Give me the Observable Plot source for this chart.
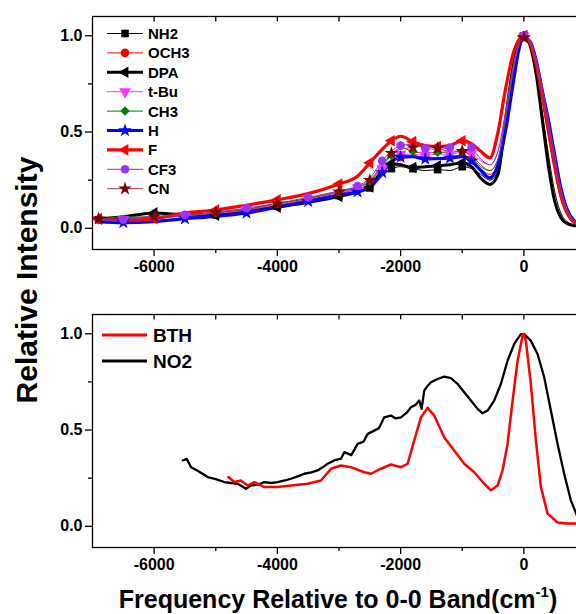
<!DOCTYPE html>
<html><head><meta charset="utf-8">
<script src="https://cdn.jsdelivr.net/npm/d3@7"></script>
<script src="https://cdn.jsdelivr.net/npm/@observablehq/plot@0.6"></script>
<style>
html,body{margin:0;padding:0;background:#fff;overflow:hidden}
#wrap{position:relative;width:576px;height:614px;overflow:hidden;background:#fff;font-family:"Liberation Sans",Arial,sans-serif}
#wrap > div, #wrap > svg{position:absolute;left:0}
#wrap > div{width:585px}
#wrap svg{max-width:none !important}
</style></head><body><div id="wrap"></div>
<script>
// ---------- data ----------
const xGrid = [-6900,-6500,-6000,-5500,-5000,-4500,-4000,-3500,-3000,-2700,-2500,-2300,-2150,-2000,-1800,-1600,-1400,-1200,-1000,-850,-700,-550,-420,-300,-180,-80,0,100,200,300,400,500,600,700,800,1000];
const seriesNames = ["NH2","OCH3","DPA","t-Bu","CH3","H","F","CF3","CN"];
const yNH2 = [0.045,0.050,0.060,0.062,0.070,0.088,0.115,0.140,0.170,0.190,0.210,0.270,0.310,0.320,0.310,0.300,0.305,0.300,0.320,0.310,0.280,0.250,0.300,0.520,0.790,0.950,1.000,0.955,0.820,0.600,0.380,0.190,0.080,0.035,0.020,0.010];
const yOCH3 = [0.040,0.040,0.050,0.065,0.075,0.095,0.120,0.150,0.180,0.205,0.230,0.300,0.350,0.370,0.375,0.370,0.365,0.370,0.380,0.360,0.310,0.280,0.340,0.540,0.800,0.950,1.000,0.960,0.840,0.660,0.480,0.300,0.150,0.070,0.030,0.010];
const yDPA = [0.050,0.060,0.080,0.070,0.068,0.085,0.110,0.135,0.165,0.190,0.215,0.300,0.335,0.330,0.315,0.320,0.325,0.330,0.340,0.320,0.260,0.228,0.280,0.560,0.830,0.970,1.000,0.950,0.800,0.560,0.320,0.140,0.055,0.025,0.015,0.010];
const yTBu = [0.045,0.045,0.055,0.065,0.078,0.098,0.125,0.155,0.185,0.210,0.240,0.310,0.360,0.385,0.385,0.380,0.385,0.385,0.395,0.390,0.350,0.330,0.400,0.580,0.820,0.960,1.000,0.975,0.890,0.740,0.580,0.400,0.230,0.110,0.050,0.010];
const yCH3 = [0.045,0.060,0.058,0.068,0.080,0.100,0.128,0.155,0.190,0.215,0.245,0.320,0.380,0.418,0.400,0.390,0.395,0.395,0.400,0.370,0.320,0.300,0.360,0.560,0.810,0.955,1.000,0.965,0.850,0.680,0.510,0.330,0.170,0.080,0.035,0.010];
const yH = [0.035,0.030,0.035,0.050,0.062,0.080,0.110,0.140,0.172,0.190,0.210,0.290,0.345,0.370,0.372,0.360,0.362,0.365,0.372,0.350,0.300,0.262,0.330,0.500,0.740,0.930,0.990,0.970,0.870,0.710,0.560,0.380,0.210,0.100,0.045,0.010];
const yF = [0.047,0.040,0.050,0.080,0.095,0.120,0.148,0.180,0.230,0.270,0.340,0.410,0.455,0.478,0.450,0.430,0.425,0.430,0.455,0.440,0.400,0.366,0.500,0.720,0.900,0.980,1.000,0.960,0.850,0.680,0.500,0.320,0.170,0.080,0.035,0.010];
const yCF3 = [0.040,0.045,0.062,0.070,0.085,0.105,0.130,0.160,0.195,0.220,0.260,0.350,0.400,0.430,0.436,0.415,0.410,0.420,0.450,0.420,0.360,0.330,0.400,0.600,0.830,0.960,1.000,0.975,0.880,0.730,0.560,0.380,0.210,0.100,0.045,0.010];
const yCN = [0.050,0.055,0.060,0.070,0.082,0.100,0.128,0.158,0.190,0.215,0.250,0.330,0.390,0.410,0.420,0.426,0.415,0.400,0.400,0.380,0.330,0.300,0.360,0.560,0.800,0.950,0.990,0.960,0.850,0.680,0.510,0.330,0.170,0.080,0.035,0.010];
const topValues = [yNH2,yOCH3,yDPA,yTBu,yCH3,yH,yF,yCF3,yCN];

const no2X = [-5536,-5470,-5401,-5300,-5131,-5000,-4861,-4750,-4644,-4509,-4428,-4300,-4212,-4100,-3995,-3880,-3779,-3650,-3564,-3450,-3346,-3250,-3184,-3077,-2968,-2914,-2800,-2697,-2600,-2535,-2428,-2350,-2266,-2157,-2080,-1995,-1900,-1833,-1760,-1698,-1659,-1617,-1560,-1508,-1400,-1293,-1184,-1075,-968,-860,-751,-670,-589,-482,-373,-265,-157,-49,5,113,222,330,438,547,654,762,860,1000];
const no2Y = [0.342,0.350,0.307,0.290,0.256,0.245,0.230,0.225,0.221,0.195,0.212,0.218,0.230,0.225,0.230,0.238,0.247,0.262,0.273,0.280,0.290,0.310,0.325,0.342,0.351,0.385,0.370,0.428,0.440,0.480,0.497,0.510,0.566,0.575,0.560,0.566,0.590,0.618,0.630,0.653,0.610,0.705,0.730,0.748,0.765,0.777,0.770,0.739,0.696,0.653,0.610,0.587,0.601,0.653,0.739,0.860,0.947,0.998,0.998,0.964,0.895,0.774,0.601,0.428,0.273,0.135,0.057,0.020];
const bthX = [-4796,-4699,-4591,-4482,-4374,-4212,-3995,-3779,-3508,-3293,-3130,-2968,-2806,-2590,-2482,-2320,-2157,-1995,-1887,-1779,-1671,-1562,-1455,-1293,-1131,-968,-806,-644,-535,-427,-346,-265,-183,-102,-21,0,32,113,195,276,384,547,700,860,1000];
const bthY = [0.256,0.230,0.238,0.212,0.230,0.204,0.204,0.212,0.221,0.238,0.299,0.316,0.307,0.281,0.273,0.299,0.321,0.307,0.325,0.446,0.566,0.615,0.575,0.463,0.394,0.325,0.281,0.221,0.187,0.212,0.290,0.428,0.653,0.860,0.990,1.000,0.964,0.739,0.446,0.204,0.066,0.020,0.015,0.015,0.015];
const bottomNames = ["BTH","NO2"];

const xMajor = [-6000,-4000,-2000,0];
const xMinor = [-5000,-3000,-1000,1000];
const yMajor = [0,0.5,1];
const yMinor = [0.25,0.75];
const xTitle = "Frequency Relative to 0-0 Band(cm";
const yTitle = "Relative Intensity";

// ---------- styles ----------
const topColors = ["#000000","#ff0000","#000000","#ff33ff","#008000","#0000ff","#ff0000","#8a2be2","#a04040"];
const markColors = ["#000000","#ff0000","#000000","#ff33ff","#008000","#0000ff","#ff0000","#9933ff","#800000"];
const topWidths = [1,1,3,1,1,3.2,3.2,1,1];
const topSymbols = ["square","circle","triangle","triangle","diamond2","star","triangle","circle","star"];
const topRotate = [0,0,-90,180,0,0,-90,0,0];
const d3Sym = {square:d3.symbolSquare,circle:d3.symbolCircle,triangle:d3.symbolTriangle,diamond2:d3.symbolDiamond2,star:d3.symbolStar};
const botColors = ["#ff0000","#000000"];
const botWidths = [2.5,2.3];
const R = 4.3;
const FONT = '"Liberation Sans", Arial, sans-serif';

const xDomain = [-7000, 1000];
const yDomain = [-0.11, 1.1];

// ---------- helpers ----------
function axes() {
  return [
    Plot.frame({stroke: "black", strokeWidth: 1.3}),
    Plot.axisX({ticks: xMajor, tickSize: 7, tickPadding: 4, tickFormat: d => String(d), label: null, strokeWidth: 1.3}),
    Plot.axisX({ticks: xMinor, tickSize: 4, tickFormat: () => "", label: null, strokeWidth: 1.3}),
    Plot.axisY({ticks: yMajor, tickSize: 7, tickPadding: 3, tickFormat: d3.format(".1f"), label: null, strokeWidth: 1.3}),
    Plot.axisY({ticks: yMinor, tickSize: 4, tickFormat: () => "", label: null, strokeWidth: 1.3}),
    Plot.ruleX(xMajor.concat(xMinor), {x: d => d, y1: yDomain[1], y2: yDomain[1] - 0.028, stroke: "black", strokeWidth: 1.3})
  ];
}
const plotStyle = {fontFamily: FONT, fontSize: "16px", fontWeight: "bold", color: "black", background: "transparent", overflow: "visible", maxWidth: "none"};

// ---------- top panel ----------
const topRows = seriesNames.flatMap((s, k) => xGrid.map((x, i) => ({s, k, i, x, y: topValues[k][i]})));
const topMarks = [];
seriesNames.forEach((s, k) => {
  const rows = topRows.filter(d => d.k === k);
  topMarks.push(Plot.line(rows, {x: "x", y: "y", stroke: topColors[k], strokeWidth: topWidths[k], curve: "monotone-x"}));
});
seriesNames.forEach((s, k) => {
  const rows = topRows.filter(d => d.k === k && ((d.x < -800 && (d.i + k) % 2 === 0) || d.x === 0));
  topMarks.push(Plot.dot(rows, {x: "x", y: "y", symbol: topSymbols[k], r: R, fill: markColors[k], stroke: "none", rotate: topRotate[k]}));
});

const p1 = Plot.plot({
  width: 585, height: 280, marginLeft: 92, marginRight: 0, marginTop: 16, marginBottom: 31,
  x: {domain: xDomain}, y: {domain: yDomain},
  style: plotStyle,
  marks: [...axes(), ...topMarks]
});

// ---------- bottom panel ----------
const botRows = [
  ...bthX.map((x, i) => ({s: "BTH", x, y: bthY[i]})),
  ...no2X.map((x, i) => ({s: "NO2", x, y: no2Y[i]}))
];
const p2 = Plot.plot({
  width: 585, height: 280, marginLeft: 92, marginRight: 0, marginTop: 16, marginBottom: 31,
  x: {domain: xDomain}, y: {domain: yDomain},
  style: plotStyle,
  marks: [
    ...axes(),
    Plot.line(botRows.filter(d => d.s === "NO2"), {x: "x", y: "y", stroke: botColors[1], strokeWidth: botWidths[1]}),
    Plot.line(botRows.filter(d => d.s === "BTH"), {x: "x", y: "y", stroke: botColors[0], strokeWidth: botWidths[0]})
  ]
});

const wrap = document.getElementById("wrap");
const d1 = document.createElement("div"); d1.style.top = "0px"; d1.appendChild(p1); wrap.appendChild(d1);
const d2 = document.createElement("div"); d2.style.top = "298px"; d2.appendChild(p2); wrap.appendChild(d2);

// ---------- overlay: legends and titles ----------
const svg = d3.select(wrap).append("svg").attr("width", 576).attr("height", 614)
  .style("top", "0px").style("font-family", FONT).style("font-weight", "bold");

const lg = svg.append("g");
seriesNames.forEach((s, k) => {
  const y = 33.5 + k * 19.4;
  lg.append("line").attr("x1", 107).attr("x2", 143).attr("y1", y).attr("y2", y)
    .attr("stroke", topColors[k]).attr("stroke-width", topWidths[k]);
  lg.append("path").attr("d", d3.symbol(d3Sym[topSymbols[k]], Math.PI * R * R)())
    .attr("transform", `translate(125,${y}) rotate(${topRotate[k]})`).attr("fill", markColors[k]);
  lg.append("text").attr("x", 148).attr("y", y).attr("dy", "0.36em").attr("font-size", 15).text(s);
});
bottomNames.forEach((s, k) => {
  const y = 335 + k * 26;
  lg.append("line").attr("x1", 102).attr("x2", 147).attr("y1", y).attr("y2", y)
    .attr("stroke", botColors[k]).attr("stroke-width", 3);
  lg.append("text").attr("x", 153).attr("y", y).attr("dy", "0.36em").attr("font-size", 19).text(s);
});

svg.append("text").attr("transform", "translate(37,280) rotate(-90)").attr("text-anchor", "middle")
  .attr("font-size", 30).text(yTitle);
const xt = svg.append("text").attr("x", 338).attr("y", 608).attr("text-anchor", "middle").attr("font-size", 25);
xt.append("tspan").text(xTitle);
xt.append("tspan").attr("font-size", 15).attr("dy", -11).text("-1");
xt.append("tspan").attr("dy", 11).text(")");
</script></body></html>
